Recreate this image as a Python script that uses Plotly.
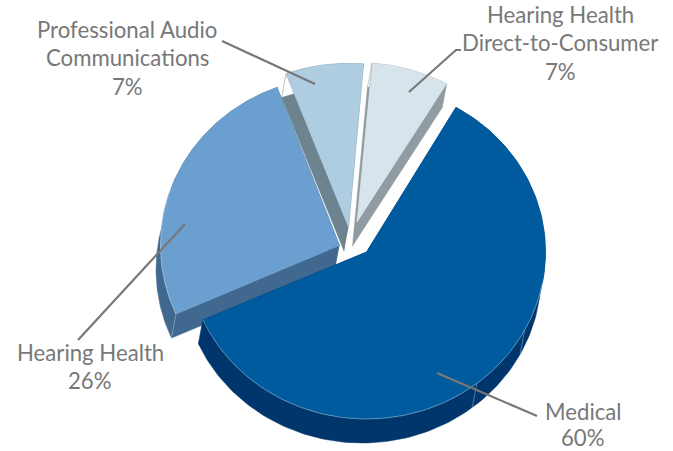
import numpy as np
import plotly.graph_objects as go

# Revenue share by segment, clockwise from the first slice
segments = ["Medical", "Hearing Health", "Professional Audio", "Hearing Health DTC"]
shares = [60, 26, 7, 7]

# Label text, one list entry per drawn line
label_lines = [
    ["Medical"],
    ["Hearing Health"],
    ["Professional Audio", "Communications"],
    ["Hearing Health", "Direct-to-Consumer"],
]

top_colors = ["#005b9e", "#6a9fd0", "#aecde0", "#d7e4ec"]
wall_colors = ["#00366c", "#41688f", "#6d838f", "#8f9ca1"]

# Pie geometry in page pixels
WIDTH, HEIGHT = 673, 451
CENTER = (352.0, 240.0)
RX, RY = 179.0, 167.0
DEPTH = (-4.5, 24.0)
START_DEG = 30.0
# How far each slice is pulled out of the pie
explode = [(14.5, 12.0), (-12.5, 5.5), (-3.5, -13.0), (5.0, -18.0)]
# Slices at the back look slightly shallower
depth_scale = [1.0, 1.01, 0.98, 0.955]
draw_order = [2, 3, 1, 0]

# Label anchor (centre x, first line y), step between lines
label_pos = [(583, 411.5), (90, 352), (127, 29), (560, 14)]
label_step = [25.5, 28.5, 28.5, 28.5]
LABEL_SIZE = 22.2

# Leader lines as polylines from slice to label
leaders = [
    [(437, 373), (537, 416)],
    [(185, 224), (78, 340)],
    [(315, 84), (222, 41)],
    [(409, 92), (456, 50), (461, 50)],
]

# Faint seams across the side wall of the largest slice (clock angles)
seam_deg = [118.0, 142.0]

GRAY = "#787878"
SEAM = "rgba(225,235,245,0.45)"


def project(apex, deg, scale=1.0):
    a = np.radians(deg)
    return apex[0] + RX * np.sin(a), apex[1] - RY * scale * np.cos(a)


def slice_geometry():
    spans = np.array(shares, float) / sum(shares) * 360.0
    starts = START_DEG + np.concatenate([[0.0], np.cumsum(spans)[:-1]])
    out = []
    for s, span, (ex, ey) in zip(starts, spans, explode):
        out.append(((CENTER[0] + ex, CENTER[1] + ey), s, s + span))
    return out


fig = go.Figure()
geometry = slice_geometry()

for i in draw_order:
    apex, a0, a1 = geometry[i]
    degs = np.linspace(a0, a1, 160)
    ax, ay = project(apex, degs, depth_scale[i])
    dx, dy = DEPTH

    # Side faces: the two radial cuts and the outer rim, all one wall colour
    wx, wy = [], []
    for end in (0, -1):
        wx += [apex[0], ax[end], ax[end] + dx, apex[0] + dx, None]
        wy += [apex[1], ay[end], ay[end] + dy, apex[1] + dy, None]
    wx += list(ax) + list(ax[::-1] + dx)
    wy += list(ay) + list(ay[::-1] + dy)
    fig.add_trace(go.Scatter(x=wx, y=wy, mode="lines", fill="toself",
                             fillcolor=wall_colors[i],
                             line=dict(color=wall_colors[i], width=0.5),
                             hoverinfo="skip", showlegend=False))

    # Top face of the slice
    fig.add_trace(go.Scatter(x=[apex[0], *ax, apex[0]], y=[apex[1], *ay, apex[1]],
                             mode="lines", fill="toself",
                             fillcolor=top_colors[i],
                             line=dict(color=top_colors[i], width=0.5),
                             hoverinfo="skip", showlegend=False))

    # Light edge where the front rim meets the wall
    front = (degs % 360 > 100) & (degs % 360 < 290)
    if front.any():
        fig.add_trace(go.Scatter(x=ax[front], y=ay[front], mode="lines",
                                 line=dict(color=SEAM, width=0.8),
                                 hoverinfo="skip", showlegend=False))

# Seams on the wall of the largest slice and at the corner of the second
seam_x, seam_y = [], []
for deg in seam_deg:
    sx, sy = project(geometry[0][0], deg)
    seam_x += [sx, sx + DEPTH[0], None]
    seam_y += [sy, sy + DEPTH[1], None]
sx, sy = project(geometry[1][0], geometry[1][1], depth_scale[1])
seam_x += [sx, sx + DEPTH[0], None]
seam_y += [sy, sy + DEPTH[1], None]
fig.add_trace(go.Scatter(x=seam_x, y=seam_y, mode="lines",
                         line=dict(color=SEAM, width=0.8),
                         hoverinfo="skip", showlegend=False))

for path in leaders:
    fig.add_trace(go.Scatter(x=[p[0] for p in path], y=[p[1] for p in path],
                             mode="lines", line=dict(color=GRAY, width=2.2),
                             hoverinfo="skip", showlegend=False))

annotations = []
for lines, share, (lx, ly), step in zip(label_lines, shares, label_pos, label_step):
    for k, text in enumerate(lines + [f"{share}%"]):
        annotations.append(dict(x=lx, y=ly + k * step, xref="x", yref="y",
                                text=text, showarrow=False, xanchor="center",
                                yanchor="middle",
                                font=dict(family="Lato", size=LABEL_SIZE, color=GRAY)))

fig.update_layout(
    width=WIDTH, height=HEIGHT,
    margin=dict(l=0, r=0, t=0, b=0),
    paper_bgcolor="white", plot_bgcolor="white",
    xaxis=dict(range=[0, WIDTH], visible=False, fixedrange=True),
    yaxis=dict(range=[HEIGHT, 0], visible=False, fixedrange=True),
    annotations=annotations,
)

fig.write_html("out.html", config={"displayModeBar": False})
